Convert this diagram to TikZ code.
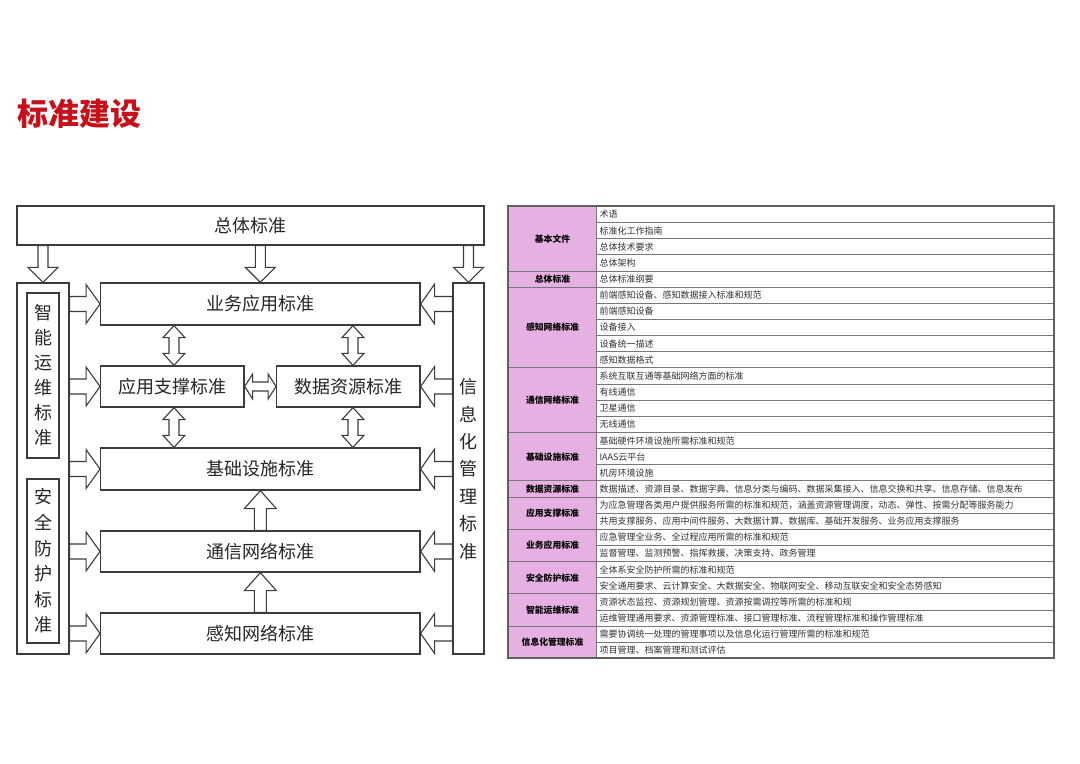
\documentclass[tikz,border=0pt]{standalone}
\usepackage{fontspec}
\setmainfont{Noto Sans CJK SC}
\usetikzlibrary{calc}
\definecolor{pinkc}{RGB}{230,176,226}
\definecolor{titred}{RGB}{200,16,26}
\definecolor{lnc}{RGB}{60,60,60}
\definecolor{tbl}{RGB}{120,120,120}
\newcommand\sarrow[5]{%
  \coordinate (hh) at ($(#2)!#5!(#1)$);
  \draw[barrow] ($(#1)!#3!90:(#2)$) -- ($(hh)!#3!-90:(#1)$) -- ($(hh)!#4!-90:(#1)$) -- (#2) -- ($(hh)!#4!90:(#1)$) -- ($(hh)!#3!90:(#1)$) -- ($(#1)!#3!-90:(#2)$) -- cycle;}
\newcommand\darrow[5]{%
  \coordinate (ha) at ($(#1)!#5!(#2)$);
  \coordinate (hb) at ($(#2)!#5!(#1)$);
  \draw[barrow] (#1) -- ($(ha)!#4!90:(#2)$) -- ($(ha)!#3!90:(#2)$) -- ($(hb)!#3!-90:(#1)$) -- ($(hb)!#4!-90:(#1)$) -- (#2) -- ($(hb)!#4!90:(#1)$) -- ($(hb)!#3!90:(#1)$) -- ($(ha)!#3!-90:(#2)$) -- ($(ha)!#4!-90:(#2)$) -- cycle;}
\begin{document}
\begin{tikzpicture}[x=0.5pt,y=-0.5pt,
  box/.style={draw=lnc, line width=0.65pt, fill=white, inner sep=0pt, text=black!85, font=\fontsize{9pt}{11pt}\selectfont},
  vbox/.style={draw=lnc, line width=0.65pt, fill=white, inner sep=0pt, align=center, text=black!85},
  barrow/.style={draw=lnc, line width=0.55pt, fill=white, line join=miter},
  lab/.style={draw=tbl, line width=0.5pt, fill=pinkc, minimum width=44pt, inner sep=0pt, anchor=north west, font=\fontsize{4.4pt}{5pt}\selectfont\bfseries},
  cell/.style={draw=tbl, line width=0.5pt, minimum height=8.0714pt, inner xsep=1.5pt, inner ysep=0pt, anchor=north west, text width=226pt, align=left, text=black!80, font=\fontsize{4.5pt}{5pt}\selectfont}]
\useasboundingbox (0,0) rectangle (1080,764);
\fill[white] (0,0) rectangle (1080,764);
\node[anchor=west, font=\fontsize{15.5pt}{16pt}\selectfont\bfseries, text=titred, inner sep=0pt] (title) at (17,114) {标准建设};
% left diagram
\node[box, minimum width=233.5pt, minimum height=19.5pt] (zt) at (250.5,225.5) {总体标准};
\node[box, minimum width=26pt, minimum height=185.5pt] (lcol) at (43,468.5) {};
\node[box, minimum width=15.5pt, minimum height=185.5pt] (rcol) at (468.5,468.5) {};
\node[vbox, minimum width=16pt, minimum height=82.5pt, font=\fontsize{9pt}{12.5pt}\selectfont] (zn) at (43,375.5) {智\\能\\运\\维\\标\\准};
\node[vbox, minimum width=16pt, minimum height=82pt, font=\fontsize{9pt}{12.8pt}\selectfont] (aq) at (43,561) {安\\全\\防\\护\\标\\准};
\node[inner sep=0pt, align=center, text=black!85, font=\fontsize{9pt}{13.7pt}\selectfont] (xx) at (468.5,469) {信\\息\\化\\管\\理\\标\\准};
\node[box, minimum width=159.65pt, minimum height=21pt] (ba) at (260.35,304) {业务应用标准};
\node[box, minimum width=71.65pt, minimum height=20.5pt] (yz) at (172.35,386.5) {应用支撑标准};
\node[box, minimum width=71.65pt, minimum height=20.5pt] (sj) at (348.35,386.5) {数据资源标准};
\node[box, minimum width=159.65pt, minimum height=21pt] (jc) at (260.35,469) {基础设施标准};
\node[box, minimum width=159.65pt, minimum height=20.5pt] (tx) at (260.35,551.5) {通信网络标准};
\node[box, minimum width=159.65pt, minimum height=20.5pt] (gz) at (260.35,633.5) {感知网络标准};
% down arrows from 总体标准
\coordinate (d1) at (zt.south -| lcol.north);
\sarrow{d1}{lcol.north}{2.5pt}{7.5pt}{7.5pt}
\coordinate (d2) at (zt.south -| ba.north);
\sarrow{d2}{ba.north}{2.5pt}{7.5pt}{7.5pt}
\coordinate (d3) at (zt.south -| rcol.north);
\sarrow{d3}{rcol.north}{2.5pt}{7.5pt}{7.5pt}
% right arrows from left column
\foreach \b in {ba,yz,jc,tx,gz}{
  \coordinate (l\b) at (lcol.east |- \b.west);
  \sarrow{l\b}{\b.west}{3.75pt}{9.75pt}{7pt}
}
% left arrows from right column
\foreach \b in {ba,sj,jc,tx,gz}{
  \coordinate (r\b) at (rcol.west |- \b.east);
  \sarrow{r\b}{\b.east}{3.75pt}{10pt}{7pt}
}
% vertical double arrows
\coordinate (v1a) at ([xshift=0.8pt]yz.north |- ba.south);
\coordinate (v1b) at ([xshift=0.8pt]yz.north);
\darrow{v1a}{v1b}{2.5pt}{5.5pt}{6pt}
\coordinate (v2a) at ([xshift=2.3pt]sj.north |- ba.south);
\coordinate (v2b) at ([xshift=2.3pt]sj.north);
\darrow{v2a}{v2b}{2.5pt}{5.5pt}{6pt}
\coordinate (v3a) at ([xshift=0.8pt]yz.south);
\coordinate (v3b) at ([xshift=0.8pt]yz.south |- jc.north);
\darrow{v3a}{v3b}{2.5pt}{5.5pt}{6pt}
\coordinate (v4a) at ([xshift=2.3pt]sj.south);
\coordinate (v4b) at ([xshift=2.3pt]sj.south |- jc.north);
\darrow{v4a}{v4b}{2.5pt}{5.5pt}{6pt}
% horizontal double arrow
\darrow{yz.east}{sj.west}{2.25pt}{6.25pt}{4pt}
% up arrows
\sarrow{tx.north}{jc.south}{3pt}{8pt}{9pt}
\sarrow{gz.north}{tx.south}{3pt}{8pt}{9pt}
% table
\foreach \txt [count=\i from 0] in {术语,标准化工作指南,总体技术要求,总体架构,总体标准纲要,前端感知设备、感知数据接入标准和规范,前端感知设备,设备接入,设备统一描述,感知数据格式,系统互联互通等基础网络方面的标准,有线通信,卫星通信,无线通信,基础硬件环境设施所需标准和规范,IAAS云平台,机房环境设施,数据描述、资源目录、数据字典、信息分类与编码、数据采集接入、信息交换和共享、信息存储、信息发布,为应急管理各类用户提供服务所需的标准和规范，涵盖资源管理调度，动态、弹性、按需分配等服务能力,共用支撑服务、应用中间件服务、大数据计算、数据库、基础开发服务、业务应用支撑服务,应急管理全业务、全过程应用所需的标准和规范,监督管理、监测预警、指挥救援、决策支持、政务管理,全体系安全防护所需的标准和规范,安全通用要求、云计算安全、大数据安全、物联网安全、移动互联安全和安全态势感知,资源状态监控、资源规划管理、资源按需调控等所需的标准和规,运维管理通用要求、资源管理标准、接口管理标准、流程管理标准和操作管理标准,需要协调统一处理的管理事项以及信息化运行管理所需的标准和规范,项目管理、档案管理和测试评估}{
  \node[cell] (r\i) at (596,{206+\i*16.142857}) {\txt};
}
\foreach \lbl/\st/\n [count=\k] in {基本文件/0/4,总体标准/4/1,感知网络标准/5/5,通信网络标准/10/4,基础设施标准/14/3,数据资源标准/17/1,应用支撑标准/18/2,业务应用标准/20/2,安全防护标准/22/2,智能运维标准/24/2,信息化管理标准/26/2}{
  \node[lab, minimum height={\n*8.0714pt}] (g\k) at (508,{206+\st*16.142857}) {\lbl};
}
\draw[tbl!80!black, line width=0.7pt] (508,206) rectangle (1054,658);
\end{tikzpicture}
\end{document}
